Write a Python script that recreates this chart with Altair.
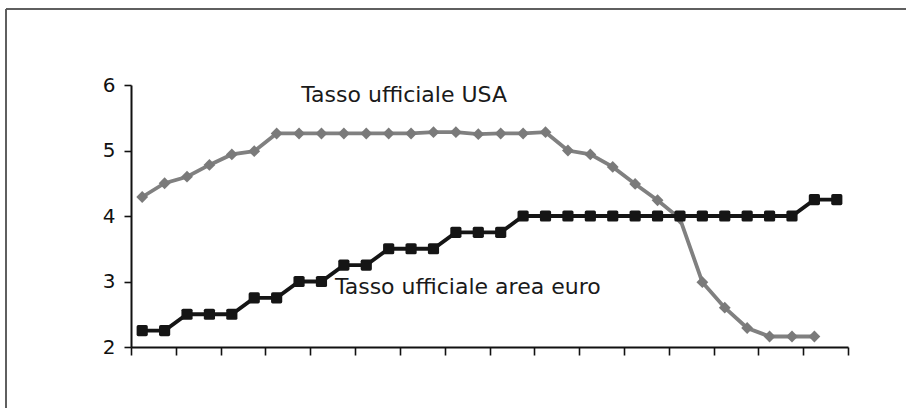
import altair as alt
import pandas as pd

euro = [2.25, 2.25, 2.5, 2.5, 2.5, 2.75, 2.75, 3.0, 3.0, 3.25, 3.25, 3.5, 3.5, 3.5,
        3.75, 3.75, 3.75, 4.0, 4.0, 4.0, 4.0, 4.0, 4.0, 4.0, 4.0, 4.0, 4.0, 4.0,
        4.0, 4.0, 4.25, 4.25]
usa = [4.29, 4.50, 4.60, 4.78, 4.94, 4.99, 5.26, 5.26, 5.26, 5.26, 5.26, 5.26,
       5.26, 5.28, 5.28, 5.25, 5.26, 5.26, 5.28, 5.00, 4.94, 4.75, 4.49, 4.24,
       3.96, 2.99, 2.60, 2.29, 2.16, 2.16, 2.16]
n_periods = 32
tick_positions = list(range(n_periods + 1))

df_euro = pd.DataFrame({"pos": [i + 0.5 for i in range(len(euro))], "val": euro})
df_usa = pd.DataFrame({"pos": [i + 0.5 for i in range(len(usa))], "val": usa})

labels = pd.DataFrame({
    "pos": [7.6, 9.1],
    "val": [5.745, 2.81],
    "txt": ["Tasso ufficiale USA", "Tasso ufficiale area euro"],
})

W, H = 717, 262
x_scale = alt.Scale(domain=[0, n_periods], nice=False, zero=False)
y_scale = alt.Scale(domain=[2, 6], nice=False, zero=False)

x_enc = alt.X("pos:Q", scale=x_scale,
              axis=alt.Axis(values=tick_positions, labels=False, title=None,
                            grid=False, tickSize=8, tickColor="#111",
                            domainColor="#111", domainWidth=2, tickWidth=1.6))
y_enc = alt.Y("val:Q", scale=y_scale,
              axis=alt.Axis(values=[2, 3, 4, 5, 6], format="d", title=None, grid=False,
                            tickSize=7, tickColor="#111", domainColor="#111",
                            domainWidth=2, tickWidth=1.6, labelFontSize=20,
                            labelFont="DejaVu Sans", labelColor="#111",
                            labelPadding=9))

rounded_square = ("M -0.7 -1 L 0.7 -1 Q 1 -1 1 -0.7 L 1 0.7 Q 1 1 0.7 1 "
                  "L -0.7 1 Q -1 1 -1 0.7 L -1 -0.7 Q -1 -1 -0.7 -1 Z")

usa_line = alt.Chart(df_usa).mark_line(color="#808080", strokeWidth=3.8).encode(x=x_enc, y=y_enc)
usa_pts = alt.Chart(df_usa).mark_point(shape="diamond", filled=True, color="#7a7a7a",
                                       size=140, opacity=1).encode(x="pos:Q", y="val:Q")
euro_line = alt.Chart(df_euro).mark_line(color="#151515", strokeWidth=3.8).encode(x="pos:Q", y="val:Q")
euro_pts = alt.Chart(df_euro).mark_point(shape=rounded_square, filled=True, color="#151515",
                                         size=125, opacity=1).encode(x="pos:Q", y="val:Q")

txt = alt.Chart(labels).mark_text(align="left", baseline="alphabetic", fontSize=22,
                                  font="DejaVu Sans", color="#1a1a1a").encode(
    x="pos:Q", y="val:Q", text="txt:N")

frame_top = alt.Chart(labels).mark_rule(color="#555", strokeWidth=1.5).encode(
    x=alt.value(-125), x2=alt.value(906 - 131), y=alt.value(-76))
frame_left = alt.Chart(labels).mark_rule(color="#555", strokeWidth=1.5).encode(
    x=alt.value(-125), y=alt.value(-76), y2=alt.value(408 - 85))

chart = alt.layer(usa_line, usa_pts, euro_line, euro_pts, txt, frame_top, frame_left).properties(
    width=W, height=H,
    padding={"left": 131, "top": 85, "right": 906 - 131 - W, "bottom": 408 - 85 - H},
    autosize=alt.AutoSizeParams(type="none"),
    background="white",
).configure_view(stroke=None)

chart.save("out.html", embed_options={"renderer": "svg", "actions": False})
